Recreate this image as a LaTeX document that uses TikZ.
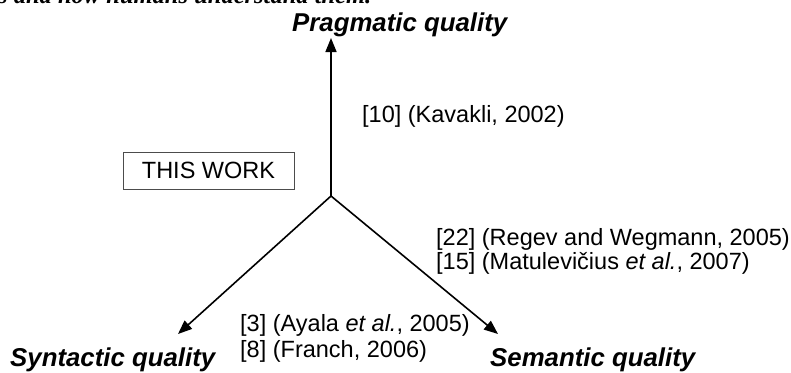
\documentclass[tikz,border=0pt]{standalone}
\usepackage{fontspec}
\setmainfont{Liberation Sans}
\newfontfamily\bodyserif{Liberation Serif}
\usetikzlibrary{arrows.meta}
\begin{document}
\begin{tikzpicture}[x=1pt,y=-1pt,
  ref/.style={anchor=base west,inner sep=0pt,font=\fontsize{23.5}{25}\selectfont},
  quality/.style={anchor=base west,inner sep=0pt,font=\fontsize{25.8}{27}\selectfont\bfseries\itshape},
  axis/.style={line width=1.6pt,-{Triangle[length=14pt,width=11pt]}},
  workbox/.style={draw=black!70,line width=0.8pt,minimum width=171pt,minimum height=37pt,inner sep=0pt,font=\fontsize{23.5}{25}\selectfont}]
\useasboundingbox (0,0) rectangle (791,372);
\begin{scope}
\clip (0,0) rectangle (791,372);
% last line of the running text above the figure, mostly outside the frame
\node[anchor=base west,inner sep=0pt,font=\fontsize{24.5}{26}\selectfont\bodyserif\bfseries\itshape] (para) at (-2,3.5) {s and how humans understand them.};
\end{scope}
% the three quality dimensions
\coordinate (c) at (331,196);
\coordinate (pt) at (331,38);
\coordinate (st) at (178,334);
\coordinate (mt) at (498,334);
\draw[axis] (c) -- (pt);
\draw[axis] (c) -- (st);
\draw[axis] (c) -- (mt);
\node[quality] (prag) at (292,31) {Pragmatic quality};
\node[quality] (synt) at (10,366) {Syntactic quality};
\node[quality] (sem) at (490,366) {Semantic quality};
% related work along each pair of dimensions
\node[ref] (kav) at (362,122) {[10] (Kavakli, 2002)};
\node[ref] (reg) at (436,245) {[22] (Regev and Wegmann, 2005)};
\node[ref] (mat) at (436,269) {[15] (Matulevičius \textit{et al.}, 2007)};
\node[ref] (aya) at (240,331) {[3] (Ayala \textit{et al.}, 2005)};
\node[ref] (fra) at (240,357) {[8] (Franch, 2006)};
\node[workbox] (this) at (208.5,170.5) {THIS WORK};
\end{tikzpicture}
\end{document}
